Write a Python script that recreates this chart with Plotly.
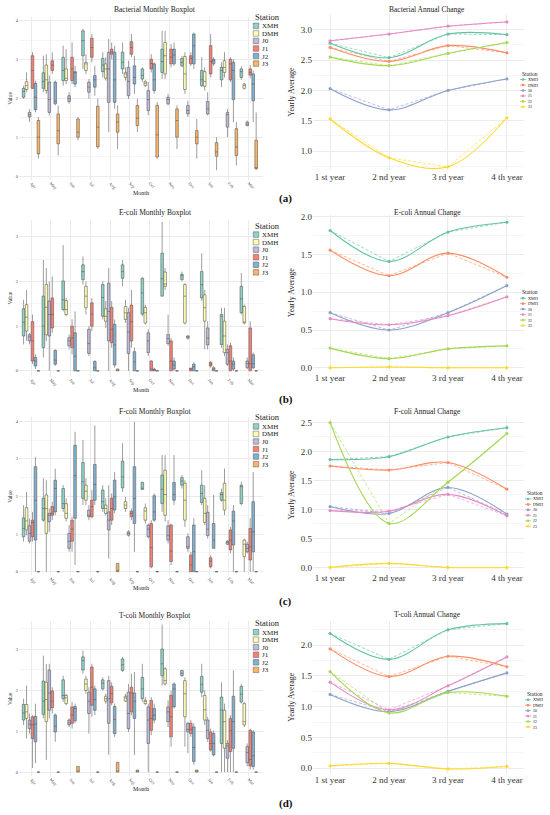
import plotly.graph_objects as go

W, H = 550, 815
FONT = "Liberation Serif"

months = ["Apr", "May", "Jun", "Jul", "Aug", "Sep", "Oct", "Nov", "Dec", "Jan", "Feb", "Mar"]
stations = ["XMH", "DMH", "J0", "J1", "J2", "J3"]
years = ["1 st year", "2 nd year", "3 rd year", "4 th year"]

box_fill = ["#8DD3C7", "#FFFFB3", "#BEBADA", "#FB8072", "#80B1D3", "#FDB462"]
line_col = ["#66C2A5", "#FC8D62", "#8DA0CB", "#E78AC3", "#A6D854", "#FFD92F"]

# ---------------- (a) Bacterial: monthly box statistics per station ----------------
bac_hi = [[2.33, 3.10, 3.36, 3.79, 3.19, 3.44, 2.80, 3.74, 3.10, 3.06, 2.93, 2.83],
          [2.67, 3.14, 3.27, 3.14, 3.06, 2.80, 2.48, 3.74, 3.19, 2.80, 3.19, 2.40],
          [1.73, 2.59, 2.16, 2.50, 3.53, 2.97, 2.42, 2.12, 1.94, 2.16, 1.73, 1.43],
          [3.19, 3.19, 3.44, 3.66, 3.44, 3.66, 3.14, 3.40, 3.19, 3.66, 3.06, 2.86],
          [2.46, 2.46, 2.84, 2.84, 3.36, 3.10, 2.93, 3.44, 3.70, 3.06, 3.01, 2.72],
          [1.52, 1.82, 1.52, 1.99, 1.82, 1.99, 1.90, 1.82, 1.47, 1.00, 1.39, 1.64]]
bac_q3 = [[2.26, 2.66, 3.06, 3.74, 3.03, 3.19, 2.76, 3.27, 3.03, 2.72, 2.80, 2.76],
          [2.43, 2.86, 2.76, 2.93, 2.89, 2.67, 2.43, 3.44, 3.08, 2.69, 2.97, 2.37],
          [1.64, 2.42, 2.07, 2.42, 3.19, 2.80, 2.20, 2.03, 1.82, 1.92, 1.64, 1.39],
          [3.10, 2.97, 3.06, 3.55, 3.27, 3.46, 3.01, 3.27, 3.10, 3.36, 3.01, 2.76],
          [2.39, 2.42, 2.69, 2.59, 3.19, 2.84, 2.89, 3.27, 3.66, 3.01, 2.93, 2.63],
          [1.43, 1.60, 1.47, 1.80, 1.60, 1.82, 1.82, 1.73, 1.17, 0.86, 1.22, 0.92]]
bac_med = [[2.18, 2.44, 2.72, 3.49, 2.86, 2.93, 2.59, 2.95, 2.93, 2.48, 2.72, 2.69],
           [2.33, 2.48, 2.52, 2.89, 2.76, 2.63, 2.39, 3.10, 2.63, 2.44, 2.80, 2.33],
           [1.58, 1.97, 1.99, 2.29, 2.76, 2.44, 1.97, 1.97, 1.69, 1.73, 1.58, 1.34],
           [2.72, 2.86, 2.76, 3.31, 3.20, 3.31, 2.90, 3.06, 3.03, 2.95, 2.89, 2.67],
           [2.03, 1.93, 2.67, 2.48, 2.48, 2.54, 2.48, 3.12, 3.36, 2.97, 2.72, 2.37],
           [1.00, 1.17, 1.13, 1.26, 1.39, 1.49, 1.06, 1.43, 1.00, 0.62, 0.75, 0.21]]
bac_q1 = [[2.03, 2.26, 2.46, 3.10, 2.69, 2.76, 2.50, 2.67, 2.84, 2.33, 2.48, 2.54],
          [2.23, 2.20, 2.46, 2.72, 2.52, 2.54, 2.33, 2.63, 2.23, 2.31, 2.67, 2.26],
          [1.52, 1.64, 1.92, 2.16, 1.90, 2.07, 1.69, 1.86, 1.60, 1.60, 1.26, 1.30],
          [2.26, 2.72, 2.46, 3.06, 3.14, 3.14, 2.76, 2.89, 2.89, 2.63, 2.48, 2.60],
          [1.71, 1.86, 2.37, 2.29, 1.90, 2.37, 2.20, 2.89, 2.89, 2.89, 1.97, 1.94],
          [0.57, 0.83, 1.00, 0.75, 1.13, 1.30, 0.49, 1.00, 0.83, 0.51, 0.53, 0.19]]
bac_lo = [[1.99, 2.16, 2.33, 2.76, 2.54, 2.63, 2.42, 2.50, 2.80, 2.29, 2.29, 2.48],
          [2.16, 2.12, 2.37, 2.63, 2.46, 2.46, 2.29, 2.50, 2.12, 2.20, 2.54, 2.23],
          [1.39, 1.56, 1.86, 1.99, 1.13, 1.99, 1.56, 1.82, 1.52, 1.56, 1.00, 1.28],
          [2.24, 2.63, 2.37, 2.93, 3.01, 3.06, 2.67, 2.80, 2.84, 2.54, 2.42, 2.52],
          [1.64, 1.82, 2.29, 2.07, 1.73, 2.12, 2.12, 2.84, 2.76, 2.84, 1.39, 1.39],
          [0.45, 0.53, 0.92, 0.70, 0.70, 1.13, 0.45, 0.70, 0.45, 0.15, 0.27, 0.15]]
bac_year = [[2.78, 2.54, 2.93, 2.92],
            [2.71, 2.48, 2.74, 2.62],
            [2.03, 1.68, 2.00, 2.19],
            [2.82, 2.93, 3.06, 3.13],
            [2.55, 2.41, 2.61, 2.79],
            [1.53, 0.89, 0.74, 1.55]]

# ---------------- (b) E-coli ----------------
eco_hi = [[1.59, 2.48, 2.81, 2.56, 2.00, 2.48, 2.09, 3.33, 2.22, 2.63, 1.41, 2.19],
          [1.81, 2.30, 1.63, 2.00, 1.56, 1.59, 1.48, 2.30, 1.96, 1.81, 1.41, 1.48],
          [0.85, 2.00, 0.81, 1.00, 2.30, 1.41, 0.93, 1.26, 0.80, 1.11, 0.59, 0.30],
          [1.26, 2.11, 1.15, 1.63, 1.56, 1.81, 0.24, 0.74, 0.07, 0.22, 0.63, 1.11],
          [0.37, 0.48, 1.33, 0.24, 1.15, 0.52, 0.07, 0.30, 0.19, 0.11, 0.30, 0.41],
          [0.01, 0.00, 0.00, 0.00, 0.05, 0.00, 0.00, 0.00, 0.00, 0.00, 0.00, 0.00]]
eco_q3 = [[1.39, 1.67, 2.01, 2.37, 1.93, 2.37, 2.07, 2.63, 2.16, 2.22, 1.26, 1.89],
          [1.48, 1.93, 1.57, 1.89, 1.39, 1.44, 1.42, 2.21, 1.93, 1.70, 1.11, 1.44],
          [0.81, 1.56, 0.74, 0.93, 1.96, 1.30, 0.85, 0.81, 0.78, 0.96, 0.48, 0.22],
          [1.10, 1.63, 1.00, 1.52, 1.42, 1.47, 0.22, 0.67, 0.06, 0.19, 0.56, 0.96],
          [0.30, 0.46, 0.85, 0.21, 1.04, 0.43, 0.04, 0.22, 0.15, 0.07, 0.22, 0.36],
          [0.00, 0.00, 0.00, 0.00, 0.04, 0.00, 0.00, 0.00, 0.00, 0.00, 0.00, 0.00]]
eco_med = [[1.09, 1.00, 1.59, 2.22, 1.64, 2.22, 1.74, 2.06, 2.13, 1.93, 1.22, 1.61],
           [1.20, 1.42, 1.37, 1.67, 1.22, 1.30, 1.30, 1.94, 1.67, 1.41, 0.78, 1.07],
           [0.76, 1.26, 0.67, 0.61, 1.33, 0.87, 0.67, 0.72, 0.76, 0.73, 0.41, 0.16],
           [0.67, 1.26, 0.74, 1.27, 0.93, 1.10, 0.04, 0.22, 0.04, 0.15, 0.22, 0.16],
           [0.22, 0.24, 0.33, 0.07, 0.58, 0.20, 0.02, 0.13, 0.09, 0.04, 0.15, 0.16],
           [0.00, 0.00, 0.00, 0.00, 0.01, 0.00, 0.00, 0.00, 0.00, 0.00, 0.00, 0.00]]
eco_q1 = [[0.78, 0.52, 1.37, 2.04, 1.22, 2.07, 1.27, 1.67, 2.04, 1.63, 0.59, 1.30],
          [0.89, 0.81, 1.26, 1.41, 1.11, 1.15, 1.07, 1.89, 1.07, 1.11, 0.41, 1.07],
          [0.67, 0.78, 0.56, 0.39, 0.67, 0.39, 0.41, 0.61, 0.73, 0.58, 0.15, 0.07],
          [0.22, 0.96, 0.52, 1.00, 0.63, 0.67, 0.00, 0.00, 0.00, 0.11, 0.00, 0.00],
          [0.11, 0.15, 0.00, 0.00, 0.13, 0.00, 0.00, 0.04, 0.00, 0.00, 0.04, 0.07],
          [0.00, 0.00, 0.00, 0.00, 0.00, 0.00, 0.00, 0.00, 0.00, 0.00, 0.00, 0.00]]
eco_lo = [[0.59, 0.30, 1.33, 1.93, 1.15, 1.89, 1.22, 1.67, 2.00, 1.56, 0.52, 1.26],
          [0.67, 0.67, 1.22, 1.26, 0.96, 1.07, 1.04, 1.81, 1.04, 0.48, 0.33, 1.04],
          [0.59, 0.00, 0.48, 0.33, 0.00, 0.00, 0.33, 0.56, 0.70, 0.48, 0.11, 0.04],
          [0.15, 0.85, 0.37, 0.89, 0.52, 0.52, 0.00, 0.00, 0.00, 0.07, 0.00, 0.00],
          [0.04, 0.11, 0.00, 0.00, 0.07, 0.00, 0.00, 0.00, 0.00, 0.00, 0.00, 0.04],
          [0.00, 0.00, 0.00, 0.00, 0.00, 0.00, 0.00, 0.00, 0.00, 0.00, 0.00, 0.00]]
eco_year = [[1.82, 1.41, 1.80, 1.93],
            [1.56, 1.22, 1.52, 1.20],
            [0.73, 0.50, 0.73, 1.09],
            [0.65, 0.57, 0.69, 0.94],
            [0.26, 0.12, 0.25, 0.29],
            [0.00, 0.01, 0.00, 0.00]]

# ---------------- (c) F-coli ----------------
fco_hi = [[1.77, 2.48, 2.30, 3.50, 2.30, 3.41, 2.39, 3.10, 2.57, 2.70, 2.21, 2.39],
          [2.12, 2.43, 1.95, 2.48, 1.95, 1.99, 1.81, 3.10, 2.43, 2.30, 2.74, 0.88],
          [1.42, 1.68, 1.24, 1.77, 2.30, 1.10, 1.28, 1.37, 1.02, 1.77, 0.84, 0.80],
          [1.59, 1.86, 1.46, 2.17, 2.08, 1.68, 1.37, 1.28, 0.53, 0.44, 1.19, 1.42],
          [3.05, 2.74, 3.72, 3.89, 2.65, 3.98, 2.08, 3.10, 1.42, 2.04, 1.77, 2.65],
          [0.00, 0.00, 0.00, 0.00, 0.22, 0.00, 0.00, 0.00, 0.00, 0.00, 0.00, 0.00]]
fco_q3 = [[1.43, 1.95, 2.21, 2.90, 2.17, 2.94, 2.37, 2.57, 2.50, 2.30, 2.10, 2.30],
          [1.70, 2.04, 1.81, 2.30, 1.77, 1.86, 1.70, 2.70, 2.35, 1.95, 2.35, 0.84],
          [1.22, 1.55, 1.02, 1.64, 1.59, 1.06, 1.24, 1.22, 0.93, 1.58, 0.81, 0.73],
          [1.37, 1.73, 1.37, 1.90, 1.95, 1.61, 1.28, 1.24, 0.44, 0.37, 1.11, 1.15],
          [2.79, 2.43, 3.36, 2.85, 2.43, 2.79, 2.02, 2.37, 1.24, 1.28, 1.61, 1.86],
          [0.00, 0.00, 0.00, 0.00, 0.22, 0.00, 0.00, 0.00, 0.00, 0.00, 0.00, 0.00]]
fco_med = [[1.15, 1.68, 1.81, 2.39, 1.86, 2.52, 2.21, 2.19, 2.41, 2.08, 2.05, 2.26],
           [1.35, 1.68, 1.55, 2.14, 1.68, 1.77, 1.61, 2.05, 1.90, 1.55, 1.90, 0.73],
           [1.02, 1.50, 0.81, 1.50, 1.37, 1.02, 1.13, 0.97, 0.66, 1.13, 0.80, 0.62],
           [1.31, 1.55, 1.13, 1.73, 1.68, 1.55, 0.64, 0.55, 0.18, 0.28, 0.84, 0.66],
           [1.90, 2.21, 2.55, 2.32, 1.99, 1.95, 1.59, 2.05, 0.53, 0.84, 1.35, 1.06],
           [0.00, 0.00, 0.00, 0.00, 0.02, 0.00, 0.00, 0.00, 0.00, 0.00, 0.00, 0.00]]
fco_q1 = [[0.93, 1.37, 1.68, 1.95, 1.68, 2.23, 2.19, 1.81, 2.30, 1.84, 1.90, 1.81],
          [1.11, 1.02, 1.42, 1.90, 1.55, 1.68, 1.37, 1.50, 1.37, 1.31, 1.64, 0.40],
          [0.81, 1.33, 0.62, 1.46, 1.11, 0.97, 0.93, 0.84, 0.62, 0.96, 0.73, 0.53],
          [0.93, 1.50, 0.81, 1.46, 1.37, 1.46, 0.13, 0.27, 0.00, 0.13, 0.58, 0.31],
          [0.84, 1.59, 1.42, 1.90, 1.64, 1.28, 1.37, 1.90, 0.00, 0.62, 0.71, 0.53],
          [0.00, 0.00, 0.00, 0.00, 0.00, 0.00, 0.00, 0.00, 0.00, 0.00, 0.00, 0.00]]
fco_lo = [[0.80, 1.33, 1.59, 1.77, 1.59, 2.12, 2.17, 1.59, 2.21, 1.77, 1.86, 1.77],
          [0.97, 0.00, 1.33, 1.77, 1.50, 1.59, 1.28, 1.33, 1.19, 1.24, 1.50, 0.00],
          [0.75, 1.06, 0.53, 1.37, 0.35, 0.93, 0.88, 0.75, 0.53, 0.88, 0.71, 0.49],
          [0.80, 1.37, 0.53, 1.42, 1.24, 1.37, 0.09, 0.18, 0.00, 0.09, 0.49, 0.00],
          [0.00, 1.50, 0.18, 1.77, 1.55, 0.53, 1.33, 1.77, 0.00, 0.62, 0.00, 0.00],
          [0.00, 0.00, 0.00, 0.00, 0.00, 0.00, 0.00, 0.00, 0.00, 0.00, 0.00, 0.00]]
fco_year = [[1.86, 1.91, 2.25, 2.41],
            [1.75, 1.68, 1.81, 1.35],
            [1.05, 0.93, 1.38, 0.92],
            [0.98, 0.97, 1.26, 0.89],
            [2.50, 0.76, 1.47, 2.31],
            [0.00, 0.07, 0.00, 0.00]]

# ---------------- (d) T-coli ----------------
tco_hi = [[1.79, 2.84, 2.35, 2.96, 2.31, 2.81, 2.64, 3.60, 2.49, 2.64, 2.19, 2.15],
          [2.11, 2.64, 1.91, 2.35, 1.91, 1.91, 1.83, 2.56, 2.31, 1.99, 1.67, 1.71],
          [1.43, 2.64, 1.31, 2.07, 2.35, 2.15, 1.67, 1.75, 1.23, 1.35, 0.78, 0.70],
          [1.39, 2.07, 1.71, 2.64, 2.19, 2.40, 1.83, 1.99, 1.27, 1.06, 1.39, 1.06],
          [1.67, 1.43, 1.67, 2.11, 1.67, 2.44, 1.67, 2.19, 1.19, 1.02, 2.48, 1.02],
          [0.00, 0.00, 0.14, 0.00, 0.24, 0.05, 0.00, 0.00, 0.05, 0.00, 0.00, 0.00]]
tco_q3 = [[1.65, 2.22, 2.25, 2.81, 2.25, 2.76, 2.31, 3.00, 2.48, 2.33, 1.83, 2.09],
          [1.65, 2.19, 1.87, 2.27, 1.85, 1.85, 1.75, 2.52, 2.23, 1.87, 1.51, 1.67],
          [1.27, 2.49, 1.27, 1.95, 2.23, 1.95, 1.59, 1.59, 1.19, 1.27, 0.70, 0.62],
          [1.35, 1.98, 1.59, 2.56, 2.09, 2.07, 1.75, 1.87, 1.19, 0.98, 1.31, 1.02],
          [1.36, 1.39, 1.60, 2.03, 1.60, 1.93, 1.55, 2.15, 1.10, 0.94, 1.85, 0.98],
          [0.00, 0.00, 0.14, 0.00, 0.24, 0.05, 0.00, 0.00, 0.05, 0.00, 0.00, 0.00]]
tco_med = [[1.44, 1.73, 1.87, 2.72, 2.17, 2.62, 2.03, 2.64, 2.41, 2.14, 1.51, 1.90],
           [1.47, 1.77, 1.81, 2.15, 1.79, 1.81, 1.73, 2.23, 1.91, 1.52, 1.23, 1.23],
           [1.17, 1.93, 1.20, 1.73, 1.79, 1.43, 1.27, 1.47, 1.04, 1.02, 0.64, 0.48],
           [1.15, 1.73, 1.39, 2.07, 1.91, 1.93, 1.31, 1.35, 1.04, 0.70, 1.01, 0.31],
           [1.17, 1.12, 1.55, 1.77, 1.28, 1.73, 1.39, 2.03, 0.60, 0.70, 1.23, 0.40],
           [0.00, 0.00, 0.02, 0.00, 0.02, 0.02, 0.00, 0.00, 0.02, 0.00, 0.00, 0.00]]
tco_q1 = [[1.27, 1.41, 1.79, 2.49, 2.03, 2.48, 1.79, 2.35, 2.35, 1.95, 0.70, 1.71],
          [1.31, 1.23, 1.67, 1.99, 1.73, 1.73, 1.67, 2.15, 1.35, 1.27, 0.58, 1.15],
          [1.06, 1.51, 1.15, 1.43, 1.19, 1.06, 0.70, 1.23, 0.98, 0.82, 0.34, 0.23],
          [0.82, 1.57, 1.19, 1.63, 1.69, 1.47, 1.02, 0.86, 0.94, 0.54, 0.50, 0.15],
          [0.74, 0.98, 1.25, 1.51, 0.94, 1.31, 1.27, 1.59, 0.26, 0.42, 0.58, 0.14],
          [0.00, 0.00, 0.00, 0.00, 0.00, 0.00, 0.00, 0.00, 0.00, 0.00, 0.00, 0.00]]
tco_lo = [[1.15, 1.31, 1.71, 2.40, 1.99, 2.44, 1.71, 2.11, 2.33, 1.83, 0.00, 1.67],
          [0.82, 0.30, 1.63, 1.91, 1.67, 1.71, 1.63, 2.11, 0.62, 1.15, 0.00, 1.10],
          [0.94, 1.31, 1.10, 0.94, 0.42, 0.98, 0.00, 1.10, 0.46, 0.74, 0.00, 0.14],
          [0.10, 1.43, 1.06, 1.35, 1.63, 1.39, 0.90, 0.62, 0.86, 0.50, 0.00, 0.06],
          [0.22, 0.74, 1.19, 1.39, 0.86, 0.42, 1.19, 1.55, 0.18, 0.38, 0.00, 0.06],
          [0.00, 0.00, 0.00, 0.00, 0.00, 0.00, 0.00, 0.00, 0.00, 0.00, 0.00, 0.00]]
tco_year = [[2.19, 1.77, 2.25, 2.35],
            [1.94, 1.49, 1.82, 1.65],
            [1.20, 0.92, 1.25, 1.55],
            [1.40, 0.95, 1.34, 1.81],
            [1.57, 0.90, 1.23, 1.17],
            [0.04, 0.08, -0.01, 0.03]]

panel_names = ["Bacterial", "E-coli", "F-coli", "T-coli"]
panel_tags = ["(a)", "(b)", "(c)", "(d)"]
panel_data = [
    (bac_hi, bac_q3, bac_med, bac_q1, bac_lo, bac_year),
    (eco_hi, eco_q3, eco_med, eco_q1, eco_lo, eco_year),
    (fco_hi, fco_q3, fco_med, fco_q1, fco_lo, fco_year),
    (tco_hi, tco_q3, tco_med, tco_q1, tco_lo, tco_year),
]

# ---------------- layout geometry (pixels) ----------------
rows = [
    dict(box_dom=(14, 178), box_rng=(-0.1, 4.1), line_dom=(11, 168), line_rng=(0.689, 3.262),
         box_title=7, line_title=7, bl_top=23, ll_top=77, ll_x=523, tag_y=197),
    dict(box_dom=(218, 376), box_rng=(-0.13, 3.38), line_dom=(213, 370), line_rng=(-0.04, 2.03),
         box_title=211, line_title=211, bl_top=233, ll_top=297, ll_x=523, tag_y=399),
    dict(box_dom=(417, 576), box_rng=(-0.1, 4.1), line_dom=(418, 572), line_rng=(-0.07, 2.57),
         box_title=411, line_title=411, bl_top=426, ll_top=499, ll_x=528, tag_y=602),
    dict(box_dom=(622, 778), box_rng=(-0.1, 3.68), line_dom=(622, 775), line_rng=(-0.08, 2.39),
         box_title=616, line_title=615, bl_top=633, ll_top=701, ll_x=528, tag_y=805),
]

BOX_X = (19, 263)
BOX_XR = (-0.606, 11.72)
LINE_X = (313, 524)
LINE_XR = (-0.29, 3.29)


def fx(p):
    return p / W


def fy(p):
    return 1 - p / H


def ydom(a, b):
    return [fy(b), fy(a)]


GRID = "#EBEBEB"
MINOR = "#F5F5F5"
TXT = "#4D4D4D"

fig = go.Figure()
layout = dict(
    width=W, height=H, margin=dict(l=0, r=0, t=0, b=0),
    paper_bgcolor="white", plot_bgcolor="white",
    font=dict(family=FONT, color="#222"),
    showlegend=False, boxmode="group", boxgap=0.1, boxgroupgap=0.12,
    annotations=[],
)

ax = 0
for r, (row, name, tag, data) in enumerate(zip(rows, panel_names, panel_tags, panel_data)):
    hi, q3, med, q1, lo, yr = data
    # --- box subplot ---
    ax += 1
    bx, by = ax, ax
    for si, st in enumerate(stations):
        fig.add_trace(go.Box(
            x=months, q1=q1[si], median=med[si], q3=q3[si],
            lowerfence=lo[si], upperfence=hi[si],
            name=st, offsetgroup=st, boxpoints=False, whiskerwidth=0,
            fillcolor=box_fill[si], line=dict(color="#5a5a5a", width=0.6),
            xaxis=f"x{bx}", yaxis=f"y{by}", showlegend=False,
        ))
    layout[f"xaxis{bx}"] = dict(
        domain=[fx(BOX_X[0]), fx(BOX_X[1])], anchor=f"y{by}", type="category",
        categoryorder="array", categoryarray=months, range=list(BOX_XR),
        showgrid=True, gridcolor=GRID, gridwidth=0.6, zeroline=False, showline=False,
        tickangle=45, tickfont=dict(size=4.5, color=TXT, family=FONT), ticks="",
        ticklabelstandoff=-1,
        title=dict(text="Month", font=dict(size=6, family=FONT), standoff=0),
    )
    layout[f"yaxis{by}"] = dict(
        domain=ydom(*row["box_dom"]), anchor=f"x{bx}", range=list(row["box_rng"]),
        dtick=1, showgrid=True, gridcolor=GRID, gridwidth=0.6, zeroline=False,
        minor=dict(dtick=0.5, showgrid=True, gridcolor=MINOR, gridwidth=0.4),
        tickfont=dict(size=4.5, color=TXT, family=FONT), ticks="",
        title=dict(text="Value", font=dict(size=5.5, family=FONT), standoff=2),
    )
    layout["annotations"].append(dict(
        text=f"{name} Monthly Boxplot", x=fx(155), y=fy(row["box_title"]),
        xref="paper", yref="paper", showarrow=False, xanchor="center", yanchor="middle",
        font=dict(size=7.5, family=FONT, color="#222")))

    # --- line subplot ---
    ax += 1
    lx, ly = ax, ax
    for si, st in enumerate(stations):
        fig.add_trace(go.Scatter(
            x=years, y=yr[si], mode="lines", line=dict(color=line_col[si], width=0.8, dash="3px,2px"),
            opacity=0.8, xaxis=f"x{lx}", yaxis=f"y{ly}", showlegend=False, hoverinfo="skip"))
    for si, st in enumerate(stations):
        fig.add_trace(go.Scatter(
            x=years, y=yr[si], mode="lines+markers", name=st,
            line=dict(color=line_col[si], width=1.1, shape="spline", smoothing=1.0),
            marker=dict(color=line_col[si], size=3.2),
            xaxis=f"x{lx}", yaxis=f"y{ly}", showlegend=False))
    layout[f"xaxis{lx}"] = dict(
        domain=[fx(LINE_X[0]), fx(LINE_X[1])], anchor=f"y{ly}", type="category",
        categoryorder="array", categoryarray=years, range=list(LINE_XR),
        showgrid=True, gridcolor=GRID, gridwidth=0.6, zeroline=False, showline=False,
        tickfont=dict(size=9, color="#333", family=FONT), ticks="",
    )
    layout[f"yaxis{ly}"] = dict(
        domain=ydom(*row["line_dom"]), anchor=f"x{lx}", range=list(row["line_rng"]),
        dtick=0.5, tickformat=".1f", showgrid=True, gridcolor=GRID, gridwidth=0.6, zeroline=False,
        minor=dict(dtick=0.25, showgrid=True, gridcolor=MINOR, gridwidth=0.4),
        tickfont=dict(size=9, color="#333", family=FONT), ticks="",
        title=dict(text="Yearly Average", font=dict(size=8, family=FONT), standoff=4),
    )
    layout["annotations"].append(dict(
        text=f"{name} Annual Change", x=fx(427), y=fy(row["line_title"]),
        xref="paper", yref="paper", showarrow=False, xanchor="center", yanchor="middle",
        font=dict(size=7.5, family=FONT, color="#222")))

    # --- box legend (drawn on a categorical station axis) ---
    ax += 1
    gx = ax
    top = row["bl_top"]
    fig.add_trace(go.Scatter(
        x=[0] * len(stations), y=stations, mode="markers",
        marker=dict(symbol="square", size=5.5, color=box_fill, line=dict(color="#5a5a5a", width=0.5)),
        xaxis=f"x{gx}", yaxis=f"y{gx}", showlegend=False, hoverinfo="skip"))
    layout[f"xaxis{gx}"] = dict(domain=[fx(252), fx(260)], anchor=f"y{gx}", range=[-1, 1], visible=False)
    layout[f"yaxis{gx}"] = dict(
        domain=ydom(top - 3.8, top + 5 * 7.6 + 3.8), anchor=f"x{gx}", type="category",
        categoryorder="array", categoryarray=stations, range=[5.5, -0.5], side="right",
        tickmode="array", tickvals=stations, ticktext=stations,
        showgrid=False, zeroline=False, showline=False, ticks="", ticklabelstandoff=1,
        tickfont=dict(size=7, color="#222", family=FONT))
    layout["annotations"].append(dict(
        text="Station", x=fx(253), y=fy(top - 9), xref="paper", yref="paper", showarrow=False,
        xanchor="left", yanchor="middle", font=dict(size=8.5, family=FONT, color="#222")))

    # --- line legend (drawn on a categorical station axis) ---
    ax += 1
    hx = ax
    ltop = row["ll_top"]
    cx = row["ll_x"]
    fig.add_trace(go.Scatter(
        x=[0] * len(stations), y=stations, mode="markers",
        marker=dict(symbol="line-ew", size=6, line=dict(color=line_col, width=0.8)),
        xaxis=f"x{hx}", yaxis=f"y{hx}", showlegend=False, hoverinfo="skip"))
    fig.add_trace(go.Scatter(
        x=[0] * len(stations), y=stations, mode="markers",
        marker=dict(symbol="circle", size=2.6, color=line_col),
        xaxis=f"x{hx}", yaxis=f"y{hx}", showlegend=False, hoverinfo="skip"))
    layout[f"xaxis{hx}"] = dict(domain=[fx(cx - 3), fx(cx + 3)], anchor=f"y{hx}", range=[-1, 1], visible=False)
    layout[f"yaxis{hx}"] = dict(
        domain=ydom(ltop - 2.75, ltop + 5 * 5.5 + 2.75), anchor=f"x{hx}", type="category",
        categoryorder="array", categoryarray=stations, range=[5.5, -0.5], side="right",
        tickmode="array", tickvals=stations, ticktext=stations,
        showgrid=False, zeroline=False, showline=False, ticks="", ticklabelstandoff=1,
        tickfont=dict(size=4.3, color="#222", family=FONT))
    layout["annotations"].append(dict(
        text="Station", x=fx(cx - 3), y=fy(ltop - 6), xref="paper", yref="paper", showarrow=False,
        xanchor="left", yanchor="middle", font=dict(size=5.5, family=FONT, color="#222")))

    # --- panel tag ---
    layout["annotations"].append(dict(
        text=f"<b>{tag}</b>", x=fx(277), y=fy(row["tag_y"]), xref="paper", yref="paper",
        showarrow=False, xanchor="left", yanchor="middle", font=dict(size=11, family=FONT, color="#111")))

fig.update_layout(**layout)
fig.write_html("out.html", config={"displayModeBar": False},
               post_script="document.body.style.margin='0px';")
